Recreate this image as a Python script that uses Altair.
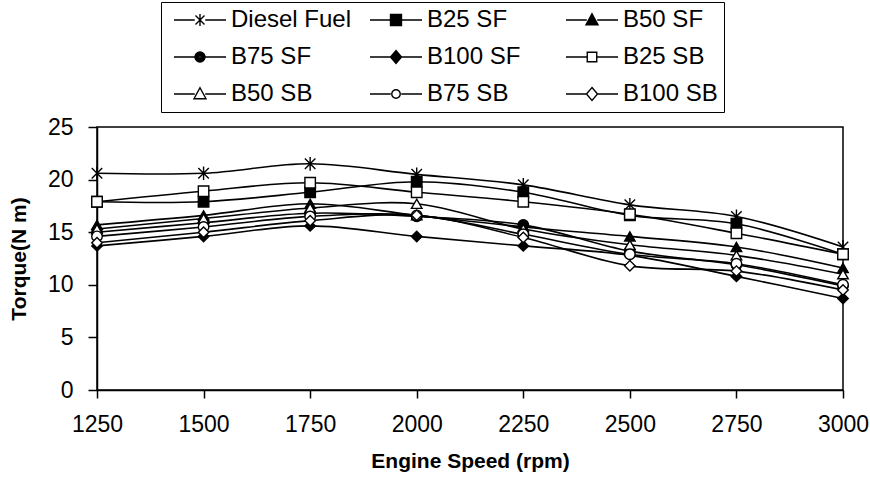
import altair as alt
import pandas as pd

speeds = [1250, 1500, 1750, 2000, 2250, 2500, 2750, 3000]
series_names = ["Diesel Fuel", "B25 SF", "B50 SF", "B75 SF", "B100 SF",
                "B25 SB", "B50 SB", "B75 SB", "B100 SB"]

diesel   = [20.6, 20.6, 21.5, 20.5, 19.5, 17.6, 16.5, 13.6]
b25_sf   = [17.9, 17.9, 18.8, 19.8, 18.8, 16.6, 15.8, 12.9]
b50_sf   = [15.7, 16.6, 17.7, 16.6, 15.5, 14.6, 13.6, 11.6]
b75_sf   = [15.0, 15.9, 16.8, 16.5, 15.7, 13.2, 11.9, 9.9]
b100_sf  = [13.7, 14.6, 15.6, 14.6, 13.7, 12.8, 10.8, 8.7]
b25_sb   = [17.9, 18.9, 19.7, 18.8, 17.9, 16.7, 14.9, 12.9]
b50_sb   = [15.3, 16.3, 17.3, 17.7, 15.3, 13.8, 12.8, 11.0]
b75_sb   = [14.6, 15.5, 16.5, 16.6, 14.8, 12.9, 12.0, 10.0]
b100_sb  = [14.0, 15.0, 16.1, 16.6, 14.5, 11.8, 11.3, 9.5]

all_values = [diesel, b25_sf, b50_sf, b75_sf, b100_sf, b25_sb, b50_sb, b75_sb, b100_sb]

rows = []
for name, vals in zip(series_names, all_values):
    for s, v in zip(speeds, vals):
        rows.append({"speed": s, "torque": v, "series": name})
df = pd.DataFrame(rows)

FONT = "Liberation Sans"

star = "M-1,-1L1,1M-1,1L1,-1M0,-1.3V1.3"
marker_shapes = [star, "square", "triangle-up", "circle", "diamond",
                 "square", "triangle-up", "circle", "diamond"]
fills = ["black", "black", "black", "black", "black", "white", "white", "white", "white"]


# ---- legend symbol paths (line segment + marker); unit = 5 px ----
def poly(pts, k):
    return "M" + "L".join(f"{x * k:.3f},{y * k:.3f}" for x, y in pts) + "Z"


def circ(k):
    return f"M{k:.3f},0A{k:.3f},{k:.3f},0,1,1,{-k:.3f},0A{k:.3f},{k:.3f},0,1,1,{k:.3f},0Z"


SQ = [(-1, -1), (1, -1), (1, 1), (-1, 1)]
TRI = [(0, -1.25), (1.2, 0.95), (-1.2, 0.95)]
DIA = [(0, -1.3), (1.1, 0), (0, 1.3), (-1.1, 0)]
SOLID = [1, 0.75, 0.5, 0.25, 0.06]

line_part = "M-5.2,0H-1.05M1.05,0H5.2"
leg_star = line_part + "M-0.9,-0.9L0.9,0.9M-0.9,0.9L0.9,-0.9M0,-1.2V1.2"
leg_sq_open = line_part + poly(SQ, 0.95)
leg_sq_fill = line_part + "".join(poly(SQ, k * 1.1) for k in SOLID)
leg_tri_open = line_part + poly(TRI, 1)
leg_tri_fill = line_part + "".join(poly(TRI, k) for k in SOLID)
leg_ci_open = line_part + circ(0.85)
leg_ci_fill = line_part + "".join(circ(k * 1.0) for k in SOLID)
leg_di_open = line_part + poly(DIA, 1)
leg_di_fill = line_part + "".join(poly(DIA, k) for k in SOLID)
leg_paths = [leg_star, leg_sq_fill, leg_tri_fill, leg_ci_fill, leg_di_fill,
             leg_sq_open, leg_tri_open, leg_ci_open, leg_di_open]

x_enc = alt.X("speed:Q",
              scale=alt.Scale(domain=[1250, 3000], nice=False, zero=False),
              axis=alt.Axis(values=speeds, format="d", title="Engine Speed (rpm)", grid=False,
                            tickSize=8, labelPadding=15, labelFontSize=23,
                            titleFontSize=21, titlePadding=14, labelFlush=False))
y_enc = alt.Y("torque:Q",
              scale=alt.Scale(domain=[0, 25], nice=False),
              axis=alt.Axis(values=[0, 5, 10, 15, 20, 25], title="Torque(N m)", grid=False,
                            tickSize=9, labelPadding=15, labelFontSize=23,
                            titleFontSize=21, titlePadding=18))

lines = alt.Chart(df).mark_line(
    interpolate="catmull-rom", color="black", strokeWidth=1.6
).encode(x=x_enc, y=y_enc, detail="series:N")

points = alt.Chart(df).mark_point(
    filled=True, stroke="black", strokeWidth=1.4, size=110, opacity=1
).encode(
    x=x_enc, y=y_enc,
    shape=alt.Shape("series:N", sort=series_names,
                    scale=alt.Scale(domain=series_names, range=marker_shapes),
                    legend=None),
    fill=alt.Fill("series:N", sort=series_names,
                  scale=alt.Scale(domain=series_names, range=fills), legend=None),
)

legend_layer = alt.Chart(df).transform_filter(
    "datum.speed < 0"
).mark_point(
    filled=False, color="black", strokeWidth=1.4, size=100, opacity=1
).encode(
    x=x_enc, y=y_enc,
    shape=alt.Shape("series:N", sort=series_names,
                    scale=alt.Scale(domain=series_names, range=leg_paths),
                    legend=alt.Legend(
                        title=None, orient="none", legendX=64, legendY=-125,
                        columns=3, direction="horizontal", gridAlign="all",
                        symbolSize=100, symbolOffset=21, labelOffset=19,
                        labelFontSize=24, labelFont=FONT, columnPadding=11,
                        rowPadding=13, padding=6, strokeColor="black",
                        symbolStrokeWidth=1.4, symbolStrokeColor="black",
                        symbolOpacity=1,
                    )),
)

chart = alt.layer(lines, points, legend_layer).resolve_scale(
    shape="independent"
).properties(
    width=746, height=263,
    autosize=alt.AutoSizeParams(type="none"),
    padding={"left": 97, "top": 127, "right": 27, "bottom": 91},
    background="white",
).configure_view(
    stroke="black", strokeWidth=1.5
).configure_axis(
    domainColor="black", domainWidth=1.5, tickColor="black", tickWidth=1.5,
    labelColor="black", titleColor="black", labelFont=FONT, titleFont=FONT,
    titleFontWeight="bold"
).configure_legend(
    labelColor="black"
)

chart.save("out.html", embed_options={"renderer": "svg", "actions": False})
